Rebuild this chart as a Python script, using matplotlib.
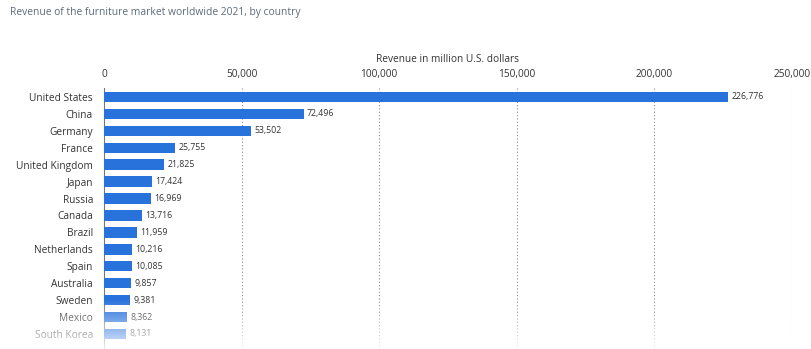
import matplotlib
matplotlib.use("Agg")
import matplotlib.pyplot as plt
import numpy as np

plt.rcParams['font.family'] = ['Open Sans', 'DejaVu Sans']

countries = ["United States", "China", "Germany", "France", "United Kingdom", "Japan",
             "Russia", "Canada", "Brazil", "Netherlands", "Spain", "Australia",
             "Sweden", "Mexico", "South Korea"]
revenue = [226776, 72496, 53502, 25755, 21825, 17424, 16969, 13716, 11959,
           10216, 10085, 9857, 9381, 8362, 8131]
ticks = [0, 50000, 100000, 150000, 200000, 250000]

W, H = 811, 349
fig = plt.figure(figsize=(W / 100, H / 100), dpi=100)

# axes placement in pixels
left, right, top, bottom = 104, 792, 88, 349
ax = fig.add_axes([left / W, 1 - bottom / H, (right - left) / W, (bottom - top) / H])

bar_color = '#2872dc'
y = np.arange(len(countries))
ax.barh(y, revenue, height=0.62, color=bar_color, zorder=3)
for yi, v in zip(y, revenue):
    ax.text(v + 1200, yi, f"{v:,}", va='center', ha='left', fontsize=6.3, color='#333333', zorder=4)

ax.set_xlim(0, 250000)
ax.set_ylim(14.89, -0.53)
ax.set_yticks(y)
ax.set_yticklabels(countries, fontsize=7.3, color='#333333')
ax.tick_params(axis='y', length=0, pad=8)

ax.xaxis.tick_top()
ax.set_xticks(ticks)
ax.set_xticklabels([f"{t:,}" for t in ticks], fontsize=7.3, color='#333333')
ax.tick_params(axis='x', length=0, pad=6)
ax.xaxis.set_label_position('top')
ax.set_xlabel("Revenue in million U.S. dollars", fontsize=7.3, color='#333333', labelpad=5)

for t in ticks[1:]:
    ax.axvline(t, color='#888888', lw=0.8, ls=(0, (1, 2)), zorder=1)

for s in ['top', 'right', 'bottom']:
    ax.spines[s].set_visible(False)
ax.spines['left'].set_color('#777777')
ax.spines['left'].set_linewidth(0.8)

fig.text(10 / W, 1 - 12 / H, "Revenue of the furniture market worldwide 2021, by country",
         fontsize=7.4, color='#5b6b7c', va='center', ha='left')

# white fade at the bottom
fade = fig.add_axes([0, 0, 1, 50 / H], zorder=10)
grad = np.linspace(0.85, 0.0, 100)
rgba = np.ones((100, 1, 4))
rgba[:, 0, 3] = grad
fade.imshow(rgba, aspect='auto', extent=[0, 1, 0, 1], origin='lower')
fade.axis('off')

fig.savefig("out.png", dpi=100)
